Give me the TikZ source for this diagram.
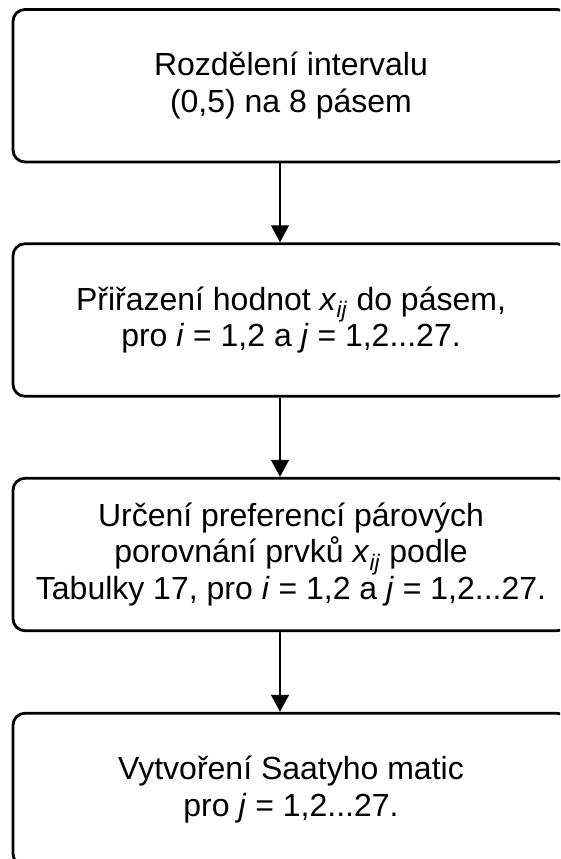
\documentclass[tikz,border=0pt]{standalone}
\usepackage{fontspec}
\setmainfont{Liberation Sans}
\usetikzlibrary{arrows.meta}
\newcommand{\xij}{\textit{x}\textsubscript{\textit{ij}}}
\begin{document}
\begin{tikzpicture}[x=1pt,y=-1pt,
  box/.style={draw, line width=2.8pt, rounded corners=12pt, minimum width=556pt,
              minimum height=152.5pt, inner sep=0pt, align=center,
              font=\fontsize{32}{36.5}\selectfont},
  arr/.style={line width=2.8pt, -{Triangle[width=17.5pt,length=17pt]}}]
\useasboundingbox (0,0) rectangle (560,859);
\clip (0,0) rectangle (560,859);
\coordinate (ax) at (280,0);
\node[box] (b1) at (291,85.75) {Rozdělení intervalu\\(0,5) na 8 pásem};
\node[box] (b2) at (291,320) {Přiřazení hodnot \xij{} do pásem,\\pro \textit{i} = 1,2 a \textit{j} = 1,2...27.};
\node[box] (b3) at (291,554.5) {Určení preferencí párových\\porovnání prvků \xij{} podle\\Tabulky 17, pro \textit{i} = 1,2 a \textit{j} = 1,2...27.};
\node[box] (b4) at (291,789.5) {Vytvoření Saatyho matic\\pro \textit{j} = 1,2...27.};
\draw[arr] (b1.south -| ax) -- (b2.north -| ax);
\draw[arr] (b2.south -| ax) -- (b3.north -| ax);
\draw[arr] (b3.south -| ax) -- (b4.north -| ax);
\end{tikzpicture}
\end{document}
